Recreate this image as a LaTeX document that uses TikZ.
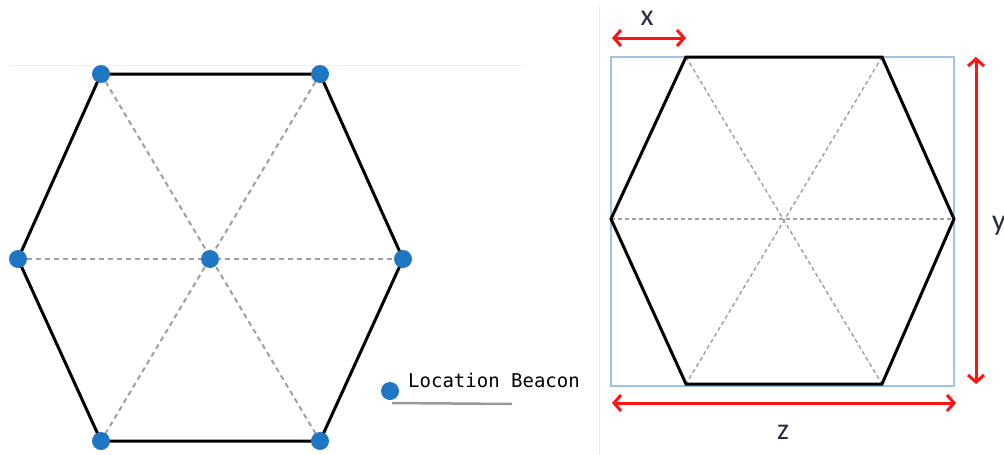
\documentclass[tikz,border=0pt]{standalone}
\usepackage{fontspec}
\setmainfont{Carlito}
\newfontfamily\monofnt{DejaVu Sans Mono}
\usetikzlibrary{arrows.meta}
\definecolor{beacon}{RGB}{31,119,195}
\definecolor{boxblue}{RGB}{157,195,230}
\definecolor{arrred}{RGB}{255,20,20}
\definecolor{lbl}{RGB}{40,45,60}
\tikzset{
  hexedge/.style={line width=3pt, black, line join=miter},
  diag/.style={line width=2pt, gray!75, dash pattern=on 5pt off 4pt},
  diagR/.style={line width=1.4pt, gray!75, dash pattern=on 4pt off 3pt},
  dot/.style={circle, fill=beacon, inner sep=0pt, minimum size=18pt},
  dim/.style={line width=3pt, arrred, {Straight Barb[length=7pt,width=16pt]}-{Straight Barb[length=7pt,width=16pt]}},
  dimlabel/.style={font=\fontsize{30}{30}\selectfont, text=lbl, inner sep=0pt}
}
\begin{document}
\begin{tikzpicture}[x=1pt,y=-1pt]
\useasboundingbox (0,0) rectangle (1004,455);
\fill[white] (0,0) rectangle (1004,455);
% faint frame lines
\draw[line width=1pt, gray!12] (10,65) -- (525,65);
\draw[line width=1pt, gray!12] (599,5) -- (599,455);
% ---------- left hexagon ----------
\coordinate (TL) at (101,74);
\coordinate (TR) at (320,74);
\coordinate (R) at (403,259);
\coordinate (BR) at (320,441);
\coordinate (BL) at (101,441);
\coordinate (L) at (18,259);
\coordinate (C) at (210,259);
\draw[diag] (TL) -- (BR);
\draw[diag] (TR) -- (BL);
\draw[diag] (L) -- (R);
\draw[hexedge] (TL) -- (TR) -- (R) -- (BR) -- (BL) -- (L) -- cycle;
\foreach \p in {TL,TR,R,BR,BL,L,C} \node[dot] (d\p) at (\p) {};
% legend
\node[dot] (leg) at (390,391) {};
\coordinate (legend) at (512,404);
\draw[line width=2.5pt, gray!80] (392,403) -- (legend);
\node[anchor=base west, inner sep=0pt, font=\monofnt\fontsize{19}{19}\selectfont] (legtext) at (408,387) {Location Beacon};
% ---------- right hexagon ----------
\coordinate (rTL) at (686,57);
\coordinate (rTR) at (882,57);
\coordinate (rR) at (954,219);
\coordinate (rBR) at (882,384);
\coordinate (rBL) at (686,384);
\coordinate (rL) at (611,219);
\coordinate (rC) at (782,219);
\draw[line width=1.4pt, boxblue] (611,57) rectangle (954,386);
\draw[diagR] (rTL) -- (rBR);
\draw[diagR] (rTR) -- (rBL);
\draw[diagR] (rL) -- (rR);
\draw[hexedge] (rTL) -- (rTR) -- (rR) -- (rBR) -- (rBL) -- (rL) -- cycle;
% dimension arrows
\coordinate (xa) at (612,38);
\coordinate (xb) at (686,38);
\draw[dim] (xa) -- (xb);
\node[dimlabel] (xl) at (647,18) {x};
\coordinate (ya) at (976,57);
\coordinate (yb) at (976,384);
\draw[dim] (ya) -- (yb);
\node[dimlabel, anchor=west] (yl) at (992,226) {y};
\coordinate (za) at (612,403);
\coordinate (zb) at (956,403);
\draw[dim] (za) -- (zb);
\node[dimlabel] (zl) at (783,432) {z};
\end{tikzpicture}
\end{document}
